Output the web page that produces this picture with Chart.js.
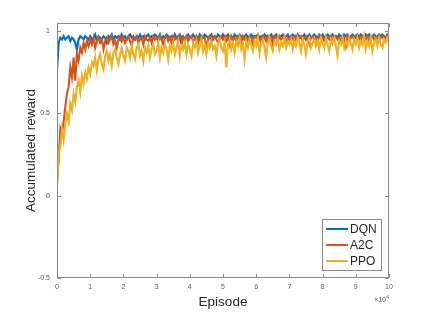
<!DOCTYPE html>
<html>
<head>
<meta charset="utf-8">
<script src="https://cdn.jsdelivr.net/npm/chart.js@4.4.1/dist/chart.umd.min.js"></script>
<style>
  html, body { margin: 0; padding: 0; background: #fff; }
  #wrap { width: 430px; height: 313px; }
</style>
</head>
<body>
<div id="wrap"><canvas id="chart" width="430" height="313"></canvas></div>
<script>
// episodes are sampled every 500 steps, 0 .. 100000
const SAMPLE_STEP = 500;

const seriesNames = ['DQN', 'A2C', 'PPO'];
const xTickLabels = ['0', '1', '2', '3', '4', '5', '6', '7', '8', '9', '10'];
const yTickValues = [-0.5, 0, 0.5, 1];

const dqn = [
  0.76,0.93,0.96,0.95,0.97,0.95,0.96,0.97,0.94,0.96,0.95,0.93,0.89,0.95,0.97,0.96,0.95,0.97,0.96,0.95,
  0.97,0.95,0.96,0.98,0.94,0.97,0.96,0.95,0.97,0.96,0.93,0.97,0.96,0.98,0.95,0.97,0.96,0.97,0.95,0.98,
  0.96,0.97,0.95,0.97,0.98,0.96,0.97,0.95,0.97,0.96,0.98,0.96,0.97,0.95,0.97,0.98,0.96,0.97,0.96,0.98,
  0.97,0.96,0.98,0.95,0.97,0.96,0.98,0.97,0.96,0.97,0.95,0.98,0.96,0.97,0.98,0.96,0.97,0.95,0.97,0.98,
  0.96,0.97,0.98,0.96,0.97,0.95,0.98,0.97,0.96,0.98,0.97,0.96,0.97,0.98,0.95,0.97,0.96,0.98,0.97,0.96,
  0.98,0.96,0.97,0.98,0.96,0.97,0.95,0.98,0.97,0.96,0.98,0.97,0.96,0.97,0.98,0.96,0.97,0.98,0.96,0.97,
  0.97,0.98,0.96,0.97,0.96,0.98,0.97,0.95,0.97,0.98,0.96,0.97,0.98,0.96,0.97,0.97,0.98,0.96,0.97,0.98,
  0.96,0.97,0.98,0.97,0.96,0.98,0.97,0.96,0.97,0.98,0.95,0.97,0.98,0.96,0.97,0.98,0.97,0.96,0.98,0.97,
  0.98,0.96,0.97,0.98,0.97,0.96,0.98,0.97,0.97,0.96,0.98,0.97,0.96,0.98,0.97,0.98,0.96,0.97,0.98,0.97,
  0.97,0.98,0.96,0.98,0.97,0.96,0.98,0.97,0.98,0.96,0.97,0.98,0.97,0.96,0.98,0.97,0.98,0.97,0.96,0.98,
  0.98
];

const a2c = [
  0.08,0.22,0.41,0.38,0.45,0.54,0.62,0.66,0.78,0.72,0.84,0.70,0.86,0.82,0.90,0.87,0.93,0.89,0.94,0.91,
  0.95,0.92,0.96,0.90,0.94,0.96,0.93,0.95,0.89,0.94,0.96,0.93,0.95,0.97,0.92,0.94,0.90,0.95,0.97,0.94,
  0.96,0.93,0.95,0.97,0.94,0.91,0.96,0.95,0.97,0.93,0.95,0.96,0.92,0.97,0.95,0.94,0.96,0.93,0.97,0.95,
  0.96,0.94,0.97,0.95,0.92,0.96,0.97,0.94,0.96,0.93,0.97,0.95,0.96,0.94,0.97,0.92,0.96,0.95,0.97,0.94,
  0.96,0.97,0.94,0.95,0.97,0.93,0.96,0.95,0.97,0.96,0.91,0.95,0.97,0.94,0.96,0.97,0.95,0.93,0.96,0.97,
  0.95,0.97,0.94,0.96,0.92,0.97,0.95,0.96,0.94,0.97,0.96,0.93,0.97,0.95,0.96,0.94,0.97,0.96,0.92,0.96,
  0.97,0.95,0.96,0.93,0.97,0.96,0.94,0.97,0.95,0.96,0.92,0.97,0.96,0.94,0.97,0.95,0.96,0.97,0.93,0.96,
  0.95,0.97,0.96,0.93,0.97,0.95,0.96,0.97,0.94,0.96,0.97,0.95,0.92,0.96,0.97,0.95,0.96,0.94,0.97,0.96,
  0.96,0.94,0.97,0.96,0.95,0.97,0.93,0.96,0.97,0.95,0.96,0.94,0.97,0.96,0.91,0.97,0.95,0.96,0.97,0.95,
  0.97,0.95,0.96,0.94,0.97,0.96,0.95,0.97,0.93,0.96,0.97,0.95,0.96,0.97,0.94,0.96,0.97,0.95,0.96,0.97,
  0.96
];

const ppo = [
  0.05,0.26,0.30,0.40,0.34,0.44,0.50,0.45,0.56,0.52,0.62,0.57,0.66,0.70,0.63,0.73,0.68,0.75,0.71,0.78,
  0.74,0.81,0.79,0.84,0.76,0.83,0.86,0.80,0.77,0.85,0.88,0.82,0.86,0.79,0.87,0.89,0.84,0.80,0.86,0.90,
  0.85,0.82,0.90,0.88,0.84,0.91,0.86,0.83,0.90,0.92,0.85,0.88,0.82,0.90,0.87,0.91,0.84,0.89,0.92,0.86,
  0.88,0.93,0.84,0.90,0.87,0.92,0.89,0.83,0.91,0.88,0.93,0.86,0.90,0.94,0.85,0.91,0.89,0.93,0.86,0.92,
  0.89,0.85,0.93,0.90,0.94,0.87,0.91,0.95,0.88,0.92,0.86,0.93,0.90,0.94,0.89,0.91,0.85,0.93,0.95,0.90,
  0.88,0.93,0.78,0.92,0.95,0.89,0.93,0.87,0.94,0.91,0.96,0.89,0.92,0.83,0.94,0.90,0.95,0.92,0.88,0.94,
  0.91,0.96,0.87,0.93,0.95,0.90,0.84,0.93,0.96,0.91,0.88,0.94,0.92,0.96,0.89,0.93,0.91,0.96,0.90,0.94,
  0.92,0.95,0.89,0.94,0.91,0.96,0.93,0.88,0.95,0.92,0.86,0.94,0.96,0.90,0.93,0.95,0.91,0.94,0.89,0.96,
  0.93,0.90,0.96,0.92,0.88,0.95,0.93,0.96,0.91,0.85,0.94,0.92,0.96,0.90,0.94,0.91,0.96,0.93,0.89,0.95,
  0.92,0.96,0.90,0.94,0.92,0.97,0.89,0.94,0.91,0.96,0.88,0.93,0.95,0.91,0.96,0.92,0.90,0.95,0.93,0.96,
  0.93
];

const colors = ['#0072BD', '#D95319', '#EDB120'];
const axisGray = '#8a8a8a';
const labelGray = '#5a5a5a';
const fontFamily = 'Helvetica, Arial, "Liberation Sans", sans-serif';

Chart.defaults.font.family = fontFamily;

function toPoints(values) {
  return values.map((v, i) => ({ x: i * SAMPLE_STEP, y: v }));
}

// MATLAB-like box, inward ticks, legend and the x10^4 exponent
const matlabAxes = {
  id: 'matlabAxes',
  afterDatasetsDraw(chart) {
    const { ctx, chartArea: a, scales: { x, y } } = chart;
    const L = Math.round(a.left) + 0.5, R = Math.round(a.right) - 0.5;
    const T = Math.round(a.top) + 0.5, B = Math.round(a.bottom) - 0.5;
    const tick = 3.5;

    ctx.save();
    ctx.strokeStyle = axisGray;
    ctx.lineWidth = 1;
    ctx.strokeRect(L, T, R - L, B - T);

    ctx.beginPath();
    x.ticks.forEach(t => {
      const px = Math.round(x.getPixelForValue(t.value)) + 0.5;
      ctx.moveTo(px, B); ctx.lineTo(px, B - tick);
      ctx.moveTo(px, T); ctx.lineTo(px, T + tick);
    });
    y.ticks.forEach(t => {
      const py = Math.round(y.getPixelForValue(t.value)) + 0.5;
      ctx.moveTo(L, py); ctx.lineTo(L + tick, py);
      ctx.moveTo(R, py); ctx.lineTo(R - tick, py);
    });
    ctx.stroke();

    // legend box
    const lx = 322.5, ly = 219.5, lw = 59, lh = 51;
    ctx.fillStyle = '#fff';
    ctx.fillRect(lx, ly, lw, lh);
    ctx.strokeStyle = axisGray;
    ctx.strokeRect(lx, ly, lw, lh);
    ctx.font = '12px ' + fontFamily;
    ctx.textBaseline = 'middle';
    ctx.textAlign = 'left';
    chart.data.datasets.forEach((ds, i) => {
      const cy = 229 + i * 16;
      ctx.strokeStyle = ds.borderColor;
      ctx.lineWidth = 2;
      ctx.beginPath();
      ctx.moveTo(326, cy);
      ctx.lineTo(348, cy);
      ctx.stroke();
      ctx.fillStyle = '#262626';
      ctx.fillText(ds.label, 350, cy + 0.5);
    });

    // exponent label
    ctx.fillStyle = labelGray;
    ctx.textAlign = 'right';
    ctx.textBaseline = 'alphabetic';
    ctx.font = '5px ' + fontFamily;
    ctx.fillText('4', 389, 299);
    ctx.font = '7px ' + fontFamily;
    ctx.fillText('\u00d710', 386, 302);
    ctx.restore();
  }
};

new Chart(document.getElementById('chart'), {
  type: 'line',
  data: {
    datasets: [
      { label: seriesNames[0], data: toPoints(dqn), borderColor: colors[0], order: 3 },
      { label: seriesNames[1], data: toPoints(a2c), borderColor: colors[1], order: 2 },
      { label: seriesNames[2], data: toPoints(ppo), borderColor: colors[2], order: 1 }
    ]
  },
  options: {
    responsive: false,
    animation: false,
    events: [],
    layout: { padding: { left: 23, right: 41, top: 23, bottom: 3 } },
    elements: {
      line: { borderWidth: 2.1, tension: 0, borderJoinStyle: 'miter' },
      point: { radius: 0 }
    },
    plugins: {
      legend: { display: false },
      tooltip: { enabled: false }
    },
    scales: {
      x: {
        type: 'linear',
        min: 0,
        max: 100000,
        afterFit: s => { s.height = 32; },
        grid: { display: false, drawTicks: false },
        border: { display: false },
        ticks: {
          stepSize: 10000,
          padding: 5,
          maxRotation: 0,
          color: labelGray,
          font: { size: 7 },
          callback: v => xTickLabels[Math.round(v / 10000)]
        },
        title: {
          display: true,
          text: 'Episode',
          color: '#262626',
          font: { size: 13.5 },
          padding: 0
        }
      },
      y: {
        min: -0.5,
        max: 1.05,
        afterFit: s => { s.width = 34; },
        afterBuildTicks: s => { s.ticks = yTickValues.map(v => ({ value: v })); },
        grid: { display: false, drawTicks: false },
        border: { display: false },
        ticks: {
          padding: 7,
          color: labelGray,
          font: { size: 7 },
          includeBounds: false,
          callback: v => String(v)
        },
        title: {
          display: true,
          text: 'Accumulated reward',
          color: '#262626',
          font: { size: 13.5 },
          padding: 0
        }
      }
    }
  },
  plugins: [matlabAxes]
});
</script>
</body>
</html>
